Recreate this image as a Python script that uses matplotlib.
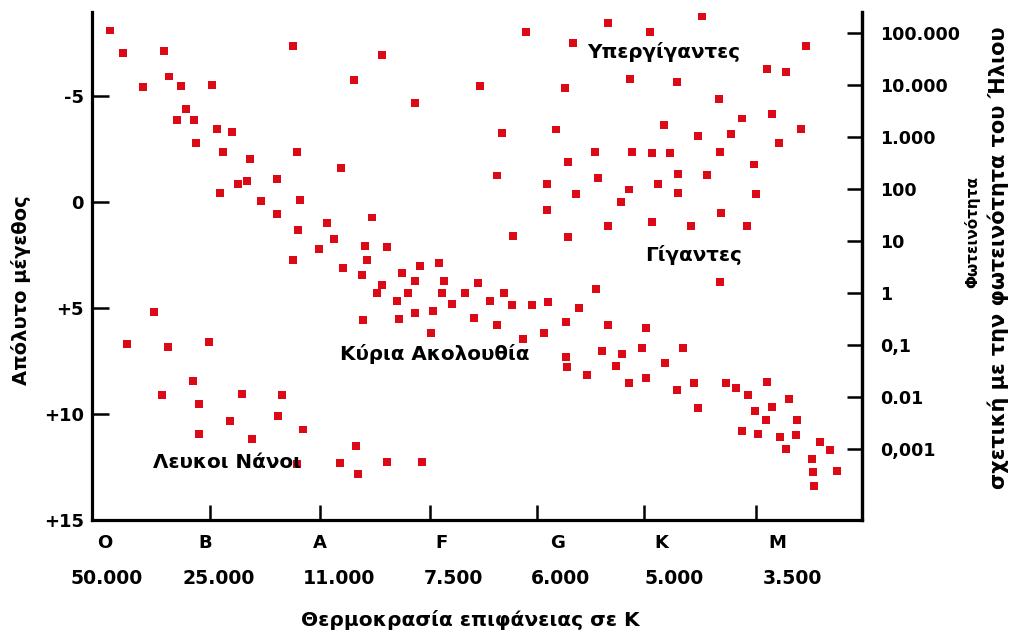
import matplotlib
matplotlib.use("Agg")
import matplotlib.pyplot as plt
import numpy as np

# ---------------- data ----------------
# spectral position (O=0, B=1, A=2, F=3, G=4, K=5, M=6) and absolute magnitude
spectral_x = [
    0.063, 0.179, 0.546, 0.358, 0.591, 0.698, 0.976, 0.743, 0.663, 0.815,
    1.021, 1.155, 0.833, 1.075, 1.316, 1.290, 1.209, 1.558, 1.048, 1.415,
    1.701, 1.737, 1.764, 1.558, 1.746, 2.006, 2.069, 1.934, 1.701, 2.131,
    3.788, 4.522, 4.209, 4.898, 2.498, 2.248, 3.376, 4.137, 4.719, 2.794,
    5.024, 3.573, 4.057, 4.406, 4.737, 4.916, 5.078, 4.164, 3.528, 3.976,
    4.236, 4.433, 4.710, 4.970, 4.639, 3.976, 4.522, 4.916, 2.409, 2.346,
    2.543, 2.364, 2.839, 3.009, 3.672, 4.164, 2.149, 5.364, 6.295, 5.946,
    6.116, 5.140, 5.516, 5.991, 5.722, 5.328, 5.624, 6.251, 6.054, 5.525,
    5.830, 5.149, 5.409, 5.149, 5.848, 5.534, 5.266, 5.767, 0.457, 0.215,
    0.582, 0.949, 0.806, 0.528, 1.245, 1.603, 0.860, 1.567, 1.137, 1.791,
    0.860, 1.334, 1.737, 2.122, 2.319, 2.678, 2.794, 3.054, 3.358, 2.498,
    2.454, 2.731, 3.036, 3.242, 3.591, 2.633, 3.466, 3.125, 3.663, 3.842,
    3.985, 4.415, 4.263, 2.955, 2.794, 2.328, 2.651, 3.322, 3.528, 2.937,
    3.949, 3.761, 4.146, 4.522, 4.863, 4.469, 4.648, 4.827, 5.033, 4.146,
    4.155, 4.334, 4.594, 4.710, 4.863, 2.266, 2.284, 2.543, 2.857, 5.525,
    5.194, 5.140, 5.292, 5.328, 5.579, 5.669, 5.776, 5.946, 5.839, 5.991,
    5.937, 6.143, 6.215, 5.722, 5.866, 6.063, 6.206, 6.116, 6.421, 6.510,
    6.349, 6.358, 6.367, 6.573,
]
abs_mag = [
    -8.07, -7.03, -7.12, -5.42, -5.90, -5.47, -5.52, -4.39, -3.87, -3.87,
    -3.44, -3.30, -2.78, -2.36, -2.03, -0.99, -0.85, -1.08, -0.42, -0.05,
    -7.36, -2.36, -0.09, 0.57, 1.32, 0.99, 1.75, 2.22, 2.74, -1.60,
    -8.02, -8.44, -7.50, -8.02, -6.93, -5.75, -5.47, -5.38, -5.80, -4.67,
    -3.63, -3.25, -3.40, -2.36, -2.36, -2.31, -2.31, -1.89, -1.23, -0.85,
    -0.38, -1.13, -0.57, -0.85, 0.00, 0.38, 1.13, 0.94, 0.75, 2.08,
    2.12, 2.74, 3.02, 2.88, 1.60, 1.65, 3.11, -8.73, -7.36, -6.27,
    -6.13, -5.66, -4.86, -4.15, -3.92, -3.11, -3.21, -3.44, -2.78, -2.36,
    -1.75, -1.32, -1.27, -0.42, -0.38, 0.52, 1.13, 1.13, 5.19, 6.70,
    6.84, 6.60, 8.44, 9.10, 9.06, 9.10, 9.53, 10.09, 10.33, 10.75,
    10.94, 11.18, 12.36, 12.31, 3.44, 3.35, 3.73, 3.73, 3.82, 3.92,
    4.29, 4.29, 4.29, 4.29, 4.29, 4.67, 4.67, 4.81, 4.86, 4.86,
    4.72, 4.10, 5.00, 5.14, 5.24, 5.57, 5.52, 5.47, 5.80, 6.18,
    6.18, 6.46, 5.66, 5.80, 5.94, 7.03, 7.17, 6.89, 7.59, 7.31,
    7.78, 8.16, 7.74, 8.54, 8.30, 11.51, 12.83, 12.26, 12.26, 3.77,
    6.89, 8.87, 8.54, 9.72, 8.54, 8.77, 9.10, 8.49, 9.86, 9.67,
    10.28, 9.29, 10.28, 10.80, 10.94, 11.09, 10.99, 11.65, 11.32, 11.70,
    12.12, 12.74, 13.40, 12.69,
]

mag_ticks = [-5, 0, 5, 10, 15]
mag_labels = ["-5", "0", "+5", "+10", "+15"]

lum_ticks = [1e5, 1e4, 1e3, 100, 10, 1, 0.1, 0.01, 0.001]
lum_labels = ["100.000", "10.000", "1.000", "100", "10", "1", "0,1", "0.01", "0,001"]

class_labels = ["O", "B", "A", "F", "G", "K", "M"]
temp_labels = ["50.000", "25.000", "11.000", "7.500", "6.000", "5.000", "3.500"]

# ---------------- layout / style ----------------
W, H = 1012, 635
fig = plt.figure(figsize=(W / 100, H / 100), dpi=100)
fig.patch.set_facecolor("white")

def fx(x):
    return x / W

def fy(y):
    return 1 - y / H

left_px, right_px, top_px, bot_px = 92, 862, 12, 520
ax = fig.add_axes([fx(left_px), fy(bot_px), fx(right_px - left_px), (bot_px - top_px) / H])

FONT = "DejaVu Sans"
RED = "#dc0a16"

ax.scatter(spectral_x, abs_mag, marker="s", s=27, color=RED, edgecolors="none", zorder=3)

ax.set_xlim(-0.0985, 6.797)
ax.set_ylim(15.0, -8.96)

for side in ["left", "bottom", "right"]:
    ax.spines[side].set_linewidth(2.3)
    ax.spines[side].set_color("black")
ax.spines["top"].set_visible(False)

ax.set_yticks(mag_ticks)
ax.set_yticklabels(mag_labels, fontfamily=FONT, fontweight="bold", fontsize=13)
ax.tick_params(axis="y", direction="in", length=12, width=1.8, pad=6)

bottom_tick_pos = [0.958, 1.943, 2.928, 3.886, 4.845, 5.848]
ax.set_xticks(bottom_tick_pos)
ax.set_xticklabels([])
ax.tick_params(axis="x", direction="in", length=11, width=1.8)

# right luminosity axis (same magnitude scale)
ax2 = ax.twinx()
ax2.set_ylim(ax.get_ylim())
lum_pos = [4.29 - 2.45 * np.log10(v) for v in lum_ticks]
ax2.set_yticks(lum_pos)
ax2.set_yticklabels(lum_labels, fontfamily=FONT, fontweight="bold", fontsize=12.6)
ax2.tick_params(axis="y", direction="in", length=11, width=1.8, pad=13)
for side in ["left", "bottom", "top"]:
    ax2.spines[side].set_visible(False)
ax2.spines["right"].set_linewidth(2.3)

# spectral classes and temperatures below the axis
class_px = [105, 205, 320, 442, 558, 661, 777]
temp_px = [107, 219, 339, 453, 561, 674, 792]
for lab, x in zip(class_labels, class_px):
    fig.text(fx(x), fy(543), lab, ha="center", va="center", fontfamily=FONT,
             fontweight="bold", fontsize=13)
for lab, x in zip(temp_labels, temp_px):
    fig.text(fx(x), fy(578), lab, ha="center", va="center", fontfamily=FONT,
             fontweight="bold", fontsize=13.6)

fig.text(fx(470), fy(620), "Θερμοκρασία επιφάνειας σε K", ha="center", va="center",
         fontfamily=FONT, fontweight="bold", fontsize=14.5)

fig.text(fx(21), fy(290), "Απόλυτο μέγεθος", ha="center", va="center", rotation=90,
         fontfamily=FONT, fontweight="bold", fontsize=14)
fig.text(fx(972), fy(232), "Φωτεινότητα", ha="center", va="center", rotation=90,
         fontfamily=FONT, fontweight="bold", fontsize=11)
fig.text(fx(998), fy(258), "σχετική με την φωτεινότητα του Ήλιου", ha="center",
         va="center", rotation=90, fontfamily=FONT, fontweight="bold", fontsize=15)

# region annotations
ann_kw = dict(ha="left", va="baseline", fontfamily=FONT, fontweight="bold", fontsize=14.3)
fig.text(fx(587), fy(58), "Υπεργίγαντες", **ann_kw)
fig.text(fx(645), fy(261), "Γίγαντες", **ann_kw)
fig.text(fx(340), fy(360), "Κύρια Ακολουθία", **ann_kw)
fig.text(fx(153), fy(468), "Λευκοι Νάνοι", **ann_kw)

fig.savefig("out.png", dpi=100, facecolor="white")
